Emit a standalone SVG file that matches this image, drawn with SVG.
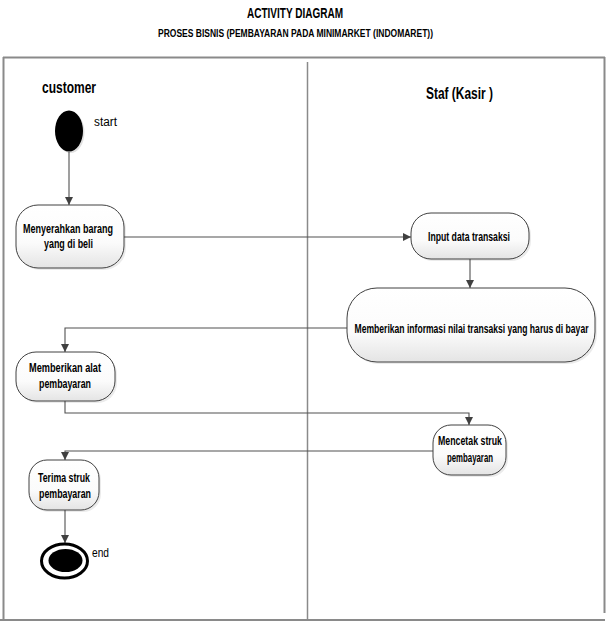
<svg xmlns="http://www.w3.org/2000/svg" width="612" height="626" viewBox="0 0 612 626">
  <defs>
    <linearGradient id="nodeFill" x1="0" y1="0" x2="0" y2="1">
      <stop offset="0" stop-color="#ffffff"/>
      <stop offset="0.6" stop-color="#fbfbfb"/>
      <stop offset="1" stop-color="#e4e4e4"/>
    </linearGradient>
    <marker id="arrow" viewBox="0 0 8 8" markerWidth="8" markerHeight="8" refX="8" refY="4" orient="auto" markerUnits="userSpaceOnUse">
      <path d="M0,0 L8,4 L0,8 z" fill="#404040"/>
    </marker>
  </defs>
  <style>
    .title { font-family: "Liberation Sans", Arial, sans-serif; font-weight: bold; fill: #000; }
    .lane { font-family: "Liberation Sans", Arial, sans-serif; font-weight: bold; font-size: 16px; fill: #000; }
    .lbl { font-family: "Liberation Sans", Arial, sans-serif; font-size: 12px; fill: #000; }
    .ntext { font-family: "Liberation Sans", Arial, sans-serif; font-weight: bold; font-size: 12.5px; fill: #000; text-anchor: middle; }
    .node { fill: url(#nodeFill); stroke: #404040; stroke-width: 1; }
    .shadow { fill: #000; opacity: 0.08; }
    .conn { fill: none; stroke: #505050; stroke-width: 1.1; marker-end: url(#arrow); }
    .frame { fill: none; stroke: #8a8a8a; stroke-width: 2; }
  </style>

  <rect width="612" height="626" fill="#ffffff"/>

  <!-- Titles -->
  <text class="title" x="295" y="18" font-size="14.5" text-anchor="middle" textLength="96" lengthAdjust="spacingAndGlyphs">ACTIVITY DIAGRAM</text>
  <text class="title" x="295.5" y="37" font-size="10.5" text-anchor="middle" textLength="275" lengthAdjust="spacingAndGlyphs">PROSES BISNIS (PEMBAYARAN PADA MINIMARKET (INDOMARET))</text>

  <!-- Swimlane frame -->
  <g id="swimlanes">
    <line class="frame" x1="3" y1="57.5" x2="605" y2="57.5"/>
    <line class="frame" x1="3.5" y1="57" x2="3.5" y2="620"/>
    <line class="frame" x1="0" y1="620" x2="605" y2="620"/>
    <line class="frame" x1="604.5" y1="57" x2="604.5" y2="613"/>
    <line x1="307.5" y1="62" x2="307.5" y2="620" stroke="#8a8a8a" stroke-width="1.5"/>
    <text class="lane" x="42" y="93" textLength="54" lengthAdjust="spacingAndGlyphs">customer</text>
    <text class="lane" x="426" y="99" textLength="67" lengthAdjust="spacingAndGlyphs">Staf (Kasir )</text>
  </g>

  <!-- Connectors -->
  <g id="connectors">
    <path class="conn" d="M69,152 L69,205"/>
    <path class="conn" d="M124,237 L411,237"/>
    <path class="conn" d="M470,259 L470,288"/>
    <path class="conn" d="M347,328 L65,328 L65,352"/>
    <path class="conn" d="M65,401 L65,413 L469,413 L469,425"/>
    <path class="conn" d="M433,451 L65,451 L65,460"/>
    <path class="conn" d="M65,510 L65,543"/>
  </g>

  <!-- Start -->
  <g id="start">
    <ellipse cx="70.5" cy="132.5" rx="14" ry="20.5" fill="#000" opacity="0.12"/>
    <ellipse cx="69" cy="131" rx="14" ry="20.5" fill="#000"/>
    <text class="lbl" x="94" y="126" font-size="13" textLength="23" lengthAdjust="spacingAndGlyphs">start</text>
  </g>

  <!-- Node 1 -->
  <g id="n1">
    <rect class="shadow" x="18" y="207" width="108" height="63" rx="22"/>
    <rect class="node" x="16" y="205" width="108" height="63" rx="22"/>
    <text class="ntext" x="68" y="233" textLength="90" lengthAdjust="spacingAndGlyphs">Menyerahkan barang</text>
    <text class="ntext" x="68.5" y="248" textLength="49" lengthAdjust="spacingAndGlyphs">yang di beli</text>
  </g>

  <!-- Node 2 -->
  <g id="n2">
    <rect class="shadow" x="413" y="215" width="118" height="46" rx="20"/>
    <rect class="node" x="411" y="213" width="118" height="46" rx="20"/>
    <text class="ntext" x="469" y="241" textLength="82" lengthAdjust="spacingAndGlyphs">Input data transaksi</text>
  </g>

  <!-- Node 3 -->
  <g id="n3">
    <rect class="shadow" x="349" y="290" width="248" height="74" rx="30"/>
    <rect class="node" x="347" y="288" width="248" height="74" rx="30"/>
    <text class="ntext" x="471.5" y="333" textLength="234" lengthAdjust="spacingAndGlyphs">Memberikan informasi nilai transaksi yang harus di bayar</text>
  </g>

  <!-- Node 4 -->
  <g id="n4">
    <rect class="shadow" x="18" y="354" width="99" height="49" rx="20"/>
    <rect class="node" x="16" y="352" width="99" height="49" rx="20"/>
    <text class="ntext" x="65" y="372" textLength="72" lengthAdjust="spacingAndGlyphs">Memberikan alat</text>
    <text class="ntext" x="65" y="388" textLength="52" lengthAdjust="spacingAndGlyphs">pembayaran</text>
  </g>

  <!-- Node 5 -->
  <g id="n5">
    <rect class="shadow" x="435" y="427" width="73" height="50" rx="18"/>
    <rect class="node" x="433" y="425" width="73" height="50" rx="18"/>
    <text class="ntext" x="470" y="445" textLength="64" lengthAdjust="spacingAndGlyphs">Mencetak struk</text>
    <text class="ntext" x="470" y="462" textLength="46" lengthAdjust="spacingAndGlyphs">pembayaran</text>
  </g>

  <!-- Node 6 -->
  <g id="n6">
    <rect class="shadow" x="31" y="462" width="70" height="50" rx="18"/>
    <rect class="node" x="29" y="460" width="70" height="50" rx="18"/>
    <text class="ntext" x="64" y="482" textLength="52" lengthAdjust="spacingAndGlyphs">Terima struk</text>
    <text class="ntext" x="65" y="498" textLength="52" lengthAdjust="spacingAndGlyphs">pembayaran</text>
  </g>

  <!-- End -->
  <g id="end">
    <ellipse cx="64.5" cy="561" rx="23" ry="17" fill="#fff" stroke="#000" stroke-width="3"/>
    <ellipse cx="65.5" cy="560.5" rx="17" ry="11.5" fill="#000"/>
    <text class="lbl" x="92" y="557" font-size="12" textLength="17" lengthAdjust="spacingAndGlyphs">end</text>
  </g>
</svg>
